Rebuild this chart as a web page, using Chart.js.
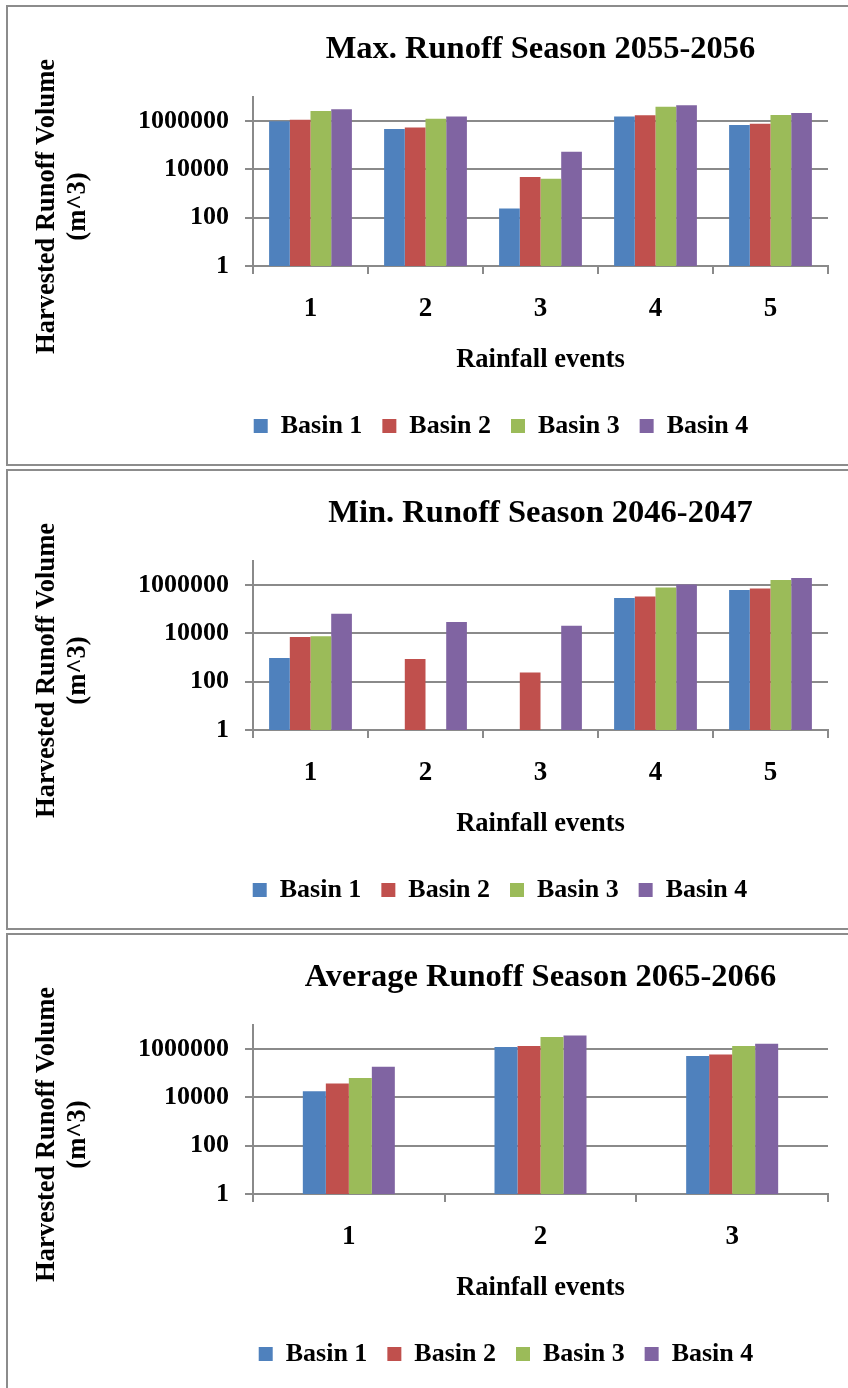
<!DOCTYPE html>
<html>
<head>
<meta charset="utf-8">
<script src="https://cdn.jsdelivr.net/npm/chart.js@4.4.0/dist/chart.umd.min.js"></script>
<style>
  html, body { margin: 0; padding: 0; background: #fff; overflow: hidden; width: 848px; height: 1388px; }
  .box { position: absolute; left: 6px; width: 900px; height: 457px; border: 2px solid #8c8c8c; }
  canvas { position: absolute; left: 0; }
</style>
</head>
<body>
<div class="box" style="top:5px"></div>
<div class="box" style="top:469px"></div>
<div class="box" style="top:933px"></div>
<canvas id="maxChart" width="1002" height="457" style="top:7px"></canvas>
<canvas id="minChart" width="1000" height="457" style="top:471px"></canvas>
<canvas id="avgChart" width="1012" height="457" style="top:935px"></canvas>
<script>
// chart data
const basinNames = ['Basin 1', 'Basin 2', 'Basin 3', 'Basin 4'];
const basinColors = ['#4f81bd', '#c0504d', '#9bbb59', '#8064a2'];

const yTickValues = [1, 100, 10000, 1000000, 10000000];
const yTickLabels = ['1', '100', '10000', '1000000', ''];
const yTitleLines = ['Harvested Runoff Volume', '(m^3)'];

// Max. Runoff Season 2055-2056
const maxEvents = ['1', '2', '3', '4', '5'];
const maxBasin1 = [1000000, 470000, 240, 1550000, 700000];
const maxBasin2 = [1130000, 550000, 4900, 1760000, 780000];
const maxBasin3 = [2600000, 1250000, 4150, 3900000, 1800000];
const maxBasin4 = [3100000, 1560000, 54000, 4550000, 2200000];

// Min. Runoff Season 2046-2047
const minEvents = ['1', '2', '3', '4', '5'];
const minBasin1 = [960, null, null, 290000, 630000];
const minBasin2 = [7100, 880, 240, 340000, 720000];
const minBasin3 = [7600, null, null, 790000, 1650000];
const minBasin4 = [65000, 29500, 21000, 1070000, 2000000];

// Average Runoff Season 2065-2066
const avgEvents = ['1', '2', '3'];
const avgBasin1 = [18000, 1230000, 520000];
const avgBasin2 = [37500, 1350000, 600000];
const avgBasin3 = [64000, 3200000, 1350000];
const avgBasin4 = [187000, 3700000, 1670000];

const serif = '"Liberation Serif", "Times New Roman", serif';
const gray = '#8a8a8a';

// rotated two line title on the left
const yTitlePlugin = {
	id: 'yTitle',
	afterDraw(chart) {
		const ctx = chart.ctx;
		const area = chart.chartArea;
		const cy = (area.top + area.bottom) / 2 + 25;
		ctx.save();
		ctx.font = 'bold 26.5px ' + serif;
		ctx.fillStyle = '#000';
		ctx.textAlign = 'center';
		ctx.textBaseline = 'middle';
		yTitleLines.forEach((line, i) => {
			ctx.save();
			ctx.translate(47 + i * 31, cy);
			ctx.rotate(-Math.PI / 2);
			ctx.fillText(line, 0, 0);
			ctx.restore();
		});
		ctx.restore();
	}
};

function buildChart(id, titleText, events, series, catPct, canvasWidth) {
	const canvas = document.getElementById(id);
	return new Chart(canvas, {
		type: 'bar',
		data: {
			labels: events,
			datasets: series.map((vals, i) => ({
				label: basinNames[i],
				data: vals,
				backgroundColor: basinColors[i],
				borderWidth: 0,
				categoryPercentage: catPct,
				barPercentage: 1,
			})),
		},
		options: {
			responsive: false,
			animation: false,
			layout: { padding: { top: 0, bottom: 15, left: 0, right: 0 } },
			plugins: {
				title: {
					display: true,
					text: titleText,
					fullSize: false,
					color: '#000',
					font: { family: serif, size: 32.5, weight: 'bold' },
					padding: { top: 23, bottom: 28 },
				},
				legend: {
					position: 'bottom',
					labels: {
						boxWidth: 14,
						boxHeight: 14,
						padding: 20,
						color: '#000',
						font: { family: serif, size: 26, weight: 'bold' },
					},
				},
				tooltip: { enabled: false },
			},
			scales: {
				x: {
					grid: { offset: true, drawOnChartArea: false, color: gray, lineWidth: 2, tickLength: 8 },
					border: { color: gray, width: 2 },
					ticks: { color: '#000', padding: 19, font: { family: serif, size: 27, weight: 'bold' } },
					title: {
						display: true,
						text: 'Rainfall events',
						color: '#000',
						font: { family: serif, size: 26.5, weight: 'bold' },
						padding: { top: 0, bottom: 17 },
					},
					afterFit: s => { s.height = 127; },
				},
				y: {
					type: 'logarithmic',
					min: 1,
					max: 10000000,
					afterBuildTicks: s => { s.ticks = yTickValues.map(v => ({ value: v })); },
					ticks: {
						color: '#000',
						padding: 16,
						font: { family: serif, size: 26, weight: 'bold' },
						callback: (v, i) => yTickLabels[i],
					},
					grid: {
						color: c => (c.tick && c.tick.value === 10000000 ? 'rgba(0,0,0,0)' : gray),
						lineWidth: 2,
						tickLength: 8,
					},
					border: { color: gray, width: 2 },
					afterFit: s => { s.width = 253; },
				},
				// empty axis that keeps the right margin
				pad: {
					position: 'right',
					display: true,
					grid: { display: false },
					border: { display: false },
					ticks: { display: false },
					afterFit: s => { s.width = canvasWidth - 828; },
				},
			},
		},
		plugins: [yTitlePlugin],
	});
}

buildChart('maxChart', 'Max. Runoff Season 2055-2056', maxEvents,
	[maxBasin1, maxBasin2, maxBasin3, maxBasin4], 0.72, 1002);
buildChart('minChart', 'Min. Runoff Season 2046-2047', minEvents,
	[minBasin1, minBasin2, minBasin3, minBasin4], 0.72, 1000);
buildChart('avgChart', 'Average Runoff Season 2065-2066', avgEvents,
	[avgBasin1, avgBasin2, avgBasin3, avgBasin4], 0.48, 1012);
</script>
</body>
</html>
